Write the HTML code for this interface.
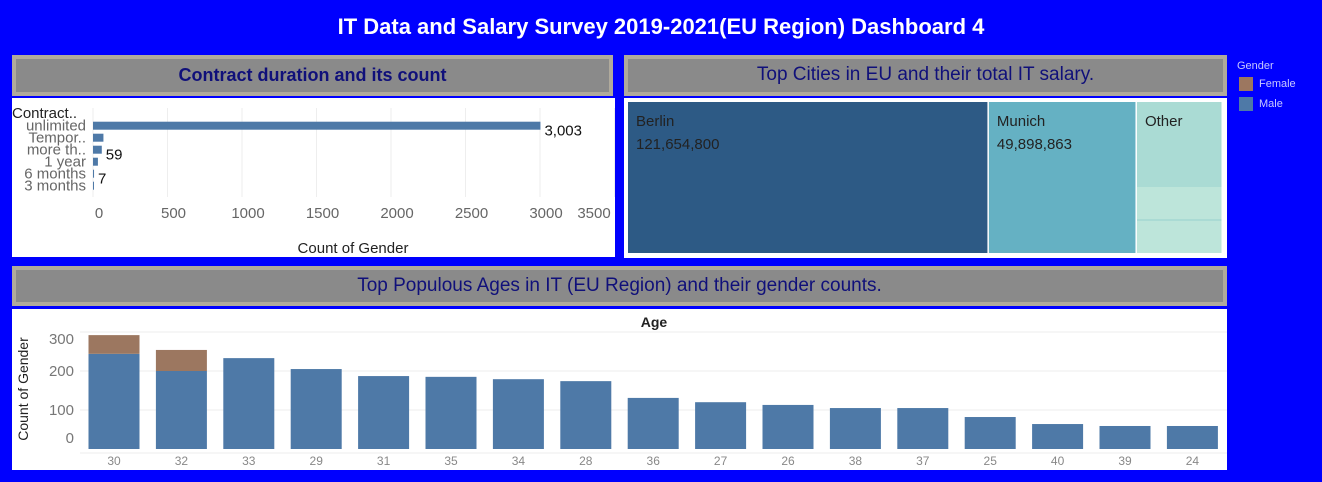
<!DOCTYPE html>
<html><head><meta charset="utf-8"><style>
body{margin:0;width:1322px;height:482px;background:#0000fe;font-family:"Liberation Sans","DejaVu Sans",sans-serif;position:relative;overflow:hidden}
.abs{position:absolute}
.hdr{position:absolute;background:#8a8a8a;border:4px solid #b0aa9c;box-sizing:border-box;color:#10107a;font-size:19px;text-align:center;line-height:32px}
.panel{position:absolute;background:#fff}
svg text{font-family:"Liberation Sans","DejaVu Sans",sans-serif}
</style></head><body>
<div class="abs" style="left:0;top:14px;width:1322px;text-align:center;color:#fff;font-size:22px;font-weight:bold">IT Data and Salary Survey 2019-2021(EU Region) Dashboard 4</div>

<div class="hdr" style="left:12px;top:55px;width:601px;height:41px;font-weight:bold;font-size:18px">Contract duration and its count</div>
<div class="hdr" style="left:624px;top:55px;width:603px;height:41px">Top Cities in EU and their total IT salary.</div>
<div class="hdr" style="left:12px;top:266px;width:1215px;height:40px">Top Populous Ages in IT (EU Region) and their gender counts.</div>

<div class="abs" style="left:1237px;top:60px;color:#c8c8ff;font-size:11px">
<div>Gender</div>
<div style="margin:5px 0 0 2px;height:14px;line-height:14px"><span style="display:inline-block;width:14px;height:14px;background:#9c7760;vertical-align:top;margin-right:6px"></span>Female</div>
<div style="margin:6px 0 0 2px;height:14px;line-height:14px"><span style="display:inline-block;width:14px;height:14px;background:#4e79a7;vertical-align:top;margin-right:6px"></span>Male</div>
</div>

<div class="panel" style="left:12px;top:98px;width:603px;height:159px">
<svg id="contract" width="603" height="159"></svg></div>

<div class="panel" style="left:624px;top:98px;width:603px;height:160px">
<svg id="tree" width="603" height="160"></svg></div>

<div class="panel" style="left:12px;top:309px;width:1215px;height:161px">
<svg id="ages" width="1215" height="161"></svg></div>

<script>
const NS="http://www.w3.org/2000/svg";
function mk(p,t,a,txt){const e=document.createElementNS(NS,t);for(const k in a)e.setAttribute(k,a[k]);if(txt!==undefined)e.textContent=txt;p.appendChild(e);return e;}

// Contract chart data
const contractCats=["unlimited","Tempor..","more th..","1 year","6 months","3 months"];
const contractVals=[3003,70,59,33,7,1];
const contractLabels=["3,003","","59","","7",""];
const contractTicks=[0,500,1000,1500,2000,2500,3000,3500];

// Cities data
const cityNames=["Berlin","Munich","Other"];
const cityVals=[121654800,49898863,29000000];
const cityLabels=["121,654,800","49,898,863",""];

// Ages data
const ageCats=["30","32","33","29","31","35","34","28","36","27","26","38","37","25","40","39","24"];
const maleVals=[244,200,233,205,187,185,179,174,131,120,113,105,105,82,64,59,59];
const femaleVals=[48,54,0,0,0,0,0,0,0,0,0,0,0,0,0,0,0];
const ageTicks=[0,100,200,300];

(function(){
const s=document.getElementById("contract");
const x=v=>81+v*0.149;
const rowY=i=>27.7+i*12;
contractTicks.forEach(t=>{
 const g=mk(s,"line",{x1:x(t),x2:x(t),y1:10,y2:99,stroke:"#eeeeee"});
 
 
 const lx=Math.min(x(t)+6,582);
 const l=mk(s,"text",{x:lx,y:120,"text-anchor":"middle","font-size":15,fill:"#666"},t);
 
 
});
mk(s,"text",{x:0,y:20,"font-size":15,fill:"#222",},"Contract..");
contractCats.forEach((c,i)=>{
 const l=mk(s,"text",{x:74,y:rowY(i)+5,"text-anchor":"end","font-size":15,fill:"#666"},c);
 
 
 const b=mk(s,"rect",{x:x(0),y:rowY(i)-4,width:Math.max(1,contractVals[i]*0.149),height:8,fill:"#4e79a7"});
 
 
 if(contractLabels[i]){const t=mk(s,"text",{x:x(contractVals[i])+4,y:rowY(i)+10,"font-size":15,fill:"#111"},contractLabels[i]);
 
 }
});
mk(s,"text",{x:341,y:155,"text-anchor":"middle","font-size":15,fill:"#222",},"Count of Gender");
})();

(function(){
const s=document.getElementById("tree");
const total=cityVals.reduce((a,b)=>a+b,0);
const W=595,x0=4,y0=4,H=151;
const cols=["#2d5a85","#65b1c3","#aadbd4"];
let cx=x0;
cityVals.forEach((v,i)=>{
 const w=v/total*W;
 const r=mk(s,"rect",{x:cx,y:y0,width:w-1.5,height:H,fill:cols[i]});
 
 
 const t=mk(s,"text",{x:cx+8,y:y0+24,"font-size":15,fill:"#222"},cityNames[i]);
 
 
 if(cityLabels[i]){const t2=mk(s,"text",{x:cx+8,y:y0+47,"font-size":15,fill:"#222"},cityLabels[i]);
 
 }
 if(i==2){
  [[85,32],[119,32]].forEach(([yy,hh])=>{const c=mk(s,"rect",{x:cx,y:y0+yy,width:w-1.5,height:hh,fill:"#bde5da"});
  
  });
 }
 cx+=w;
});
})();

(function(){
const s=document.getElementById("ages");
const base=140,k=0.39;
const y=v=>base-v*k;
const x=i=>102+i*67.4;
mk(s,"text",{x:642,y:18,"text-anchor":"middle","font-size":14,"font-weight":"bold",fill:"#222",},"Age");
mk(s,"line",{x1:68,x2:1215,y1:y(0)+4,y2:y(0)+4,stroke:"#eee"});
ageTicks.forEach(t=>{
 if(t>0){const g=mk(s,"line",{x1:68,x2:1215,y1:y(t),y2:y(t),stroke:"#eeeeee"});
 
 }
 const ly=Math.min(Math.max(y(t)+5,35),134);
 const l=mk(s,"text",{x:62,y:ly,"text-anchor":"end","font-size":15,fill:"#777"},t);
 
 
});
const yt=mk(s,"text",{x:0,y:0,"text-anchor":"middle","font-size":14,fill:"#222",transform:"translate(16,80) rotate(-90)"},"Count of Gender");


ageCats.forEach((c,i)=>{
 const m=maleVals[i],f=femaleVals[i];
 const b=mk(s,"rect",{x:x(i)-25.5,y:y(m),width:51,height:m*k,fill:"#4e79a7"});
 
 
 if(f>0){const bf=mk(s,"rect",{x:x(i)-25.5,y:y(m+f),width:51,height:f*k,fill:"#9c7760"});
 
 }
 const l=mk(s,"text",{x:x(i),y:156,"text-anchor":"middle","font-size":12,fill:"#888"},c);
 
 
});
})();
</script>
</body></html>
